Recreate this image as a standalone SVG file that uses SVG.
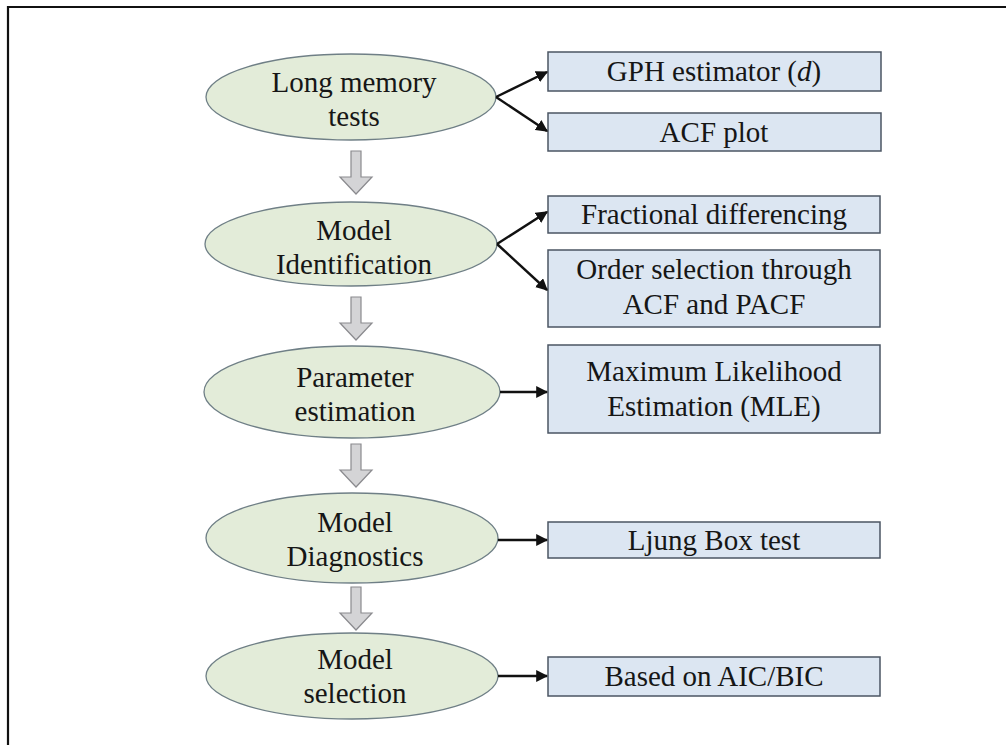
<svg xmlns="http://www.w3.org/2000/svg" width="1006" height="745" viewBox="0 0 1006 745">
  <style>
    .step ellipse { fill: #e3ecd9; stroke: #6f7f86; stroke-width: 1.3; }
    .item rect { fill: #dce6f2; stroke: #4b5563; stroke-width: 1.5; }
    .lbl { font-size: 29px; fill: #161616; text-anchor: middle; }
    .link { stroke: #111; stroke-width: 2.4; fill: none; marker-end: url(#head); }
    .down { fill: #d4d4d6; stroke: #8a8a8e; stroke-width: 1.2; }
  </style>
  <defs>
    <marker id="head" viewBox="0 0 10 10" refX="9" refY="5" markerWidth="5" markerHeight="5" orient="auto" markerUnits="strokeWidth">
      <path d="M0,0 L10,5 L0,10 z" fill="#111"/>
    </marker>
    <path id="downArrow" d="M-5,0 H5 V26 H16 L0,43 L-16,26 H-5 Z"/>
  </defs>

  <rect width="1006" height="745" fill="#ffffff"/>
  <!-- page frame (top and left edges) -->
  <path d="M8,745 V7 H1006" fill="none" stroke="#111" stroke-width="2.2"/>

  <g font-family="Liberation Serif, Tinos, DejaVu Serif, serif">
  <!-- process steps -->
  <g id="step-long-memory" class="step">
    <ellipse cx="351" cy="97" rx="145" ry="43"/>
    <text class="lbl" x="354" y="92">Long memory</text>
    <text class="lbl" x="354" y="126">tests</text>
  </g>
  <g id="step-identification" class="step">
    <ellipse cx="351" cy="244" rx="146" ry="42"/>
    <text class="lbl" x="354" y="240">Model</text>
    <text class="lbl" x="354" y="274">Identification</text>
  </g>
  <g id="step-estimation" class="step">
    <ellipse cx="352" cy="392" rx="148" ry="46"/>
    <text class="lbl" x="355" y="387">Parameter</text>
    <text class="lbl" x="355" y="421">estimation</text>
  </g>
  <g id="step-diagnostics" class="step">
    <ellipse cx="352" cy="538" rx="146" ry="45"/>
    <text class="lbl" x="355" y="532">Model</text>
    <text class="lbl" x="355" y="566">Diagnostics</text>
  </g>
  <g id="step-selection" class="step">
    <ellipse cx="352" cy="676" rx="146" ry="43"/>
    <text class="lbl" x="355" y="669">Model</text>
    <text class="lbl" x="355" y="703">selection</text>
  </g>

  <!-- methods -->
  <g id="item-gph" class="item">
    <rect x="548" y="52" width="333" height="39"/>
    <text class="lbl" x="714" y="81">GPH estimator (<tspan font-style="italic">d</tspan>)</text>
  </g>
  <g id="item-acf" class="item">
    <rect x="548" y="113" width="333" height="38"/>
    <text class="lbl" x="714" y="142">ACF plot</text>
  </g>
  <g id="item-fracdiff" class="item">
    <rect x="548" y="196" width="332" height="37"/>
    <text class="lbl" x="714" y="224">Fractional differencing</text>
  </g>
  <g id="item-order" class="item">
    <rect x="548" y="250" width="332" height="77"/>
    <text class="lbl" x="714" y="279">Order selection through</text>
    <text class="lbl" x="714" y="314">ACF and PACF</text>
  </g>
  <g id="item-mle" class="item">
    <rect x="548" y="345" width="332" height="88"/>
    <text class="lbl" x="714" y="381">Maximum Likelihood</text>
    <text class="lbl" x="714" y="416">Estimation (MLE)</text>
  </g>
  <g id="item-ljung" class="item">
    <rect x="548" y="522" width="332" height="36"/>
    <text class="lbl" x="714" y="550">Ljung Box test</text>
  </g>
  <g id="item-aicbic" class="item">
    <rect x="548" y="657" width="332" height="39"/>
    <text class="lbl" x="714" y="686">Based on AIC/BIC</text>
  </g>
  </g>

  <!-- connectors -->
  <g id="connectors">
    <path class="link" d="M496,97 L547,72"/>
    <path class="link" d="M496,97 L547,131"/>
    <path class="link" d="M497,244 L547,212"/>
    <path class="link" d="M497,244 L547,290"/>
    <path class="link" d="M500,392 L547,392"/>
    <path class="link" d="M498,540 L547,540"/>
    <path class="link" d="M498,676 L547,676"/>
    <use href="#downArrow" class="down" x="356" y="151"/>
    <use href="#downArrow" class="down" x="356" y="297"/>
    <use href="#downArrow" class="down" x="356" y="444"/>
    <use href="#downArrow" class="down" x="356" y="587"/>
  </g>
</svg>
